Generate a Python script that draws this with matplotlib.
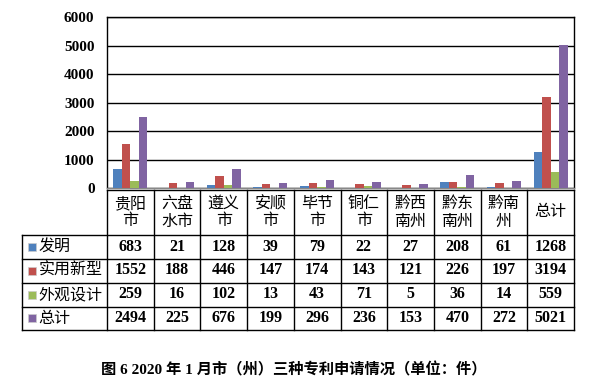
import matplotlib
matplotlib.use("Agg")
import matplotlib.pyplot as plt
from matplotlib.transforms import blended_transform_factory
from matplotlib.patches import Rectangle
from matplotlib.lines import Line2D
import numpy as np

categories = ["贵阳\n市", "六盘\n水市", "遵义\n市", "安顺\n市", "毕节\n市",
              "铜仁\n市", "黔西\n南州", "黔东\n南州", "黔南\n州", "总计"]
series_names = ["发明", "实用新型", "外观设计", "总计"]
invention = [683, 21, 128, 39, 79, 22, 27, 208, 61, 1268]
utility = [1552, 188, 446, 147, 174, 143, 121, 226, 197, 3194]
design = [259, 16, 102, 13, 43, 71, 5, 36, 14, 559]
total = [2494, 225, 676, 199, 296, 236, 153, 470, 272, 5021]
yticks = [0, 1000, 2000, 3000, 4000, 5000, 6000]
colors = ["#4F81BD", "#C0504D", "#9BBB59", "#8064A2"]
caption = "图 6 2020 年 1 月市（州）三种专利申请情况（单位：件）"

W, H = 597, 381
fig = plt.figure(figsize=(W / 100, H / 100), dpi=100)

def fx(x):
    return x / W

def fy(y):
    return 1 - y / H

left, right, top, bottom = 107, 574, 17.3, 188.3
ax = fig.add_axes([fx(left), fy(bottom), fx(right - left), (bottom - top) / H])

values = [invention, utility, design, total]
n = len(categories)
x = np.arange(n)
bw = 0.182
for i, (vals, c) in enumerate(zip(values, colors)):
    ax.bar(x + (i - 1.5) * bw, vals, width=bw, color=c, edgecolor="none", zorder=3)

ax.set_xlim(-0.5, n - 0.5)
ax.set_ylim(0, 6000)
ax.set_yticks(yticks)
ax.set_yticklabels([str(t) for t in yticks], fontfamily="Liberation Serif",
                   fontweight="bold", fontsize=11)
ax.tick_params(axis="y", length=0, pad=9)
ax.set_xticks([])
ax.yaxis.grid(True, color="black", linewidth=1.0, zorder=0)
for s in ["left", "right", "top"]:
    ax.spines[s].set_color("black")
    ax.spines[s].set_linewidth(1.0)
ax.spines["bottom"].set_color("#888888")
ax.spines["bottom"].set_linewidth(1.0)

# data table below chart
tr = blended_transform_factory(ax.transData, fig.transFigure)
row_tops = [190, 235, 258.5, 282.5, 306.5, 330]
lab_left = 22
lw = 1.0

fig.add_artist(Line2D([-0.5, n - 0.5], [fy(row_tops[0])] * 2, transform=tr,
                      color="black", linewidth=lw))
for yy in row_tops[1:]:
    fig.add_artist(Line2D([fx(lab_left), fx(right)], [fy(yy)] * 2,
                          transform=fig.transFigure, color="black", linewidth=lw))
for k in range(n + 1):
    fig.add_artist(Line2D([k - 0.5, k - 0.5], [fy(row_tops[0]), fy(row_tops[-1])],
                          transform=tr, color="black", linewidth=lw))
fig.add_artist(Line2D([fx(lab_left)] * 2, [fy(row_tops[1]), fy(row_tops[-1])],
                      transform=fig.transFigure, color="black", linewidth=lw))

cjk = ["Noto Sans CJK SC", "DejaVu Sans"]
cw = "medium"
for k, cat in enumerate(categories):
    parts = cat.split("\n")
    if len(parts) == 2:
        for line, yy in zip(parts, [203.5, 221]):
            fig.text(k, fy(yy), line, transform=tr, ha="center", va="center",
                     fontsize=11.5, family=cjk, fontweight=cw)
    else:
        fig.text(k, fy(211.5), cat, transform=tr, ha="center", va="center",
                 fontsize=11.5, family=cjk, fontweight=cw)

for r, (name, vals, c) in enumerate(zip(series_names, values, colors)):
    yc = (row_tops[r + 1] + row_tops[r + 2]) / 2
    fig.add_artist(Rectangle((fx(28), fy(yc + 4)), fx(8), 8 / H,
                             transform=fig.transFigure, facecolor=c,
                             edgecolor="#cccccc", linewidth=0.5))
    fig.text(fx(38.5), fy(yc), name, ha="left", va="center", fontsize=11.5,
             family=cjk, fontweight=cw)
    for k, v in enumerate(vals):
        fig.text(k, fy(yc), str(v), transform=tr, ha="center", va="center",
                 fontsize=11.5, family="Liberation Serif", fontweight="bold")

fig.text(fx(294), fy(370), caption, ha="center", va="center", fontsize=11,
         family=["Liberation Serif", "Noto Sans CJK SC"], fontweight="bold")

fig.savefig("out.png", dpi=100)
